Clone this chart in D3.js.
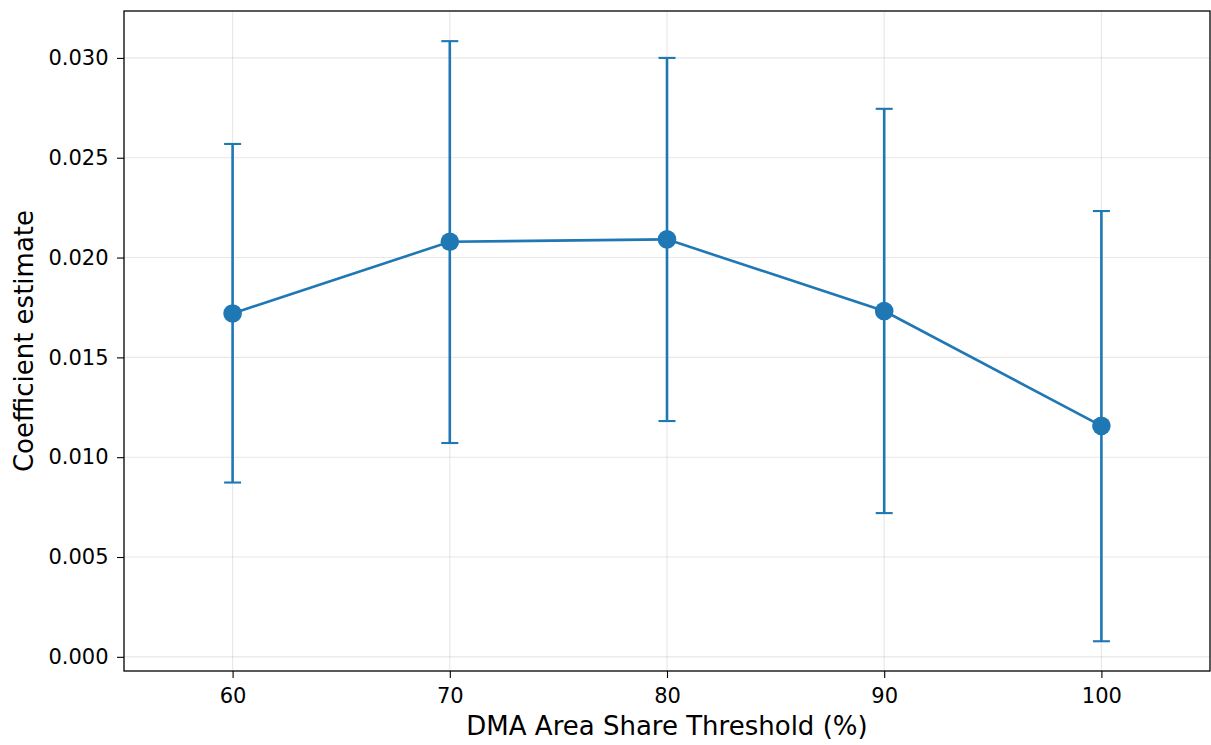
<!DOCTYPE html>
<html>
<head>
<meta charset="utf-8">
<script src="https://cdn.jsdelivr.net/npm/d3@7"></script>
<style>
  body { margin: 0; background: #fff; }
  svg { font-family: "DejaVu Sans", sans-serif; }
</style>
</head>
<body>
<svg id="chart" width="1211" height="745"></svg>
<script>
var thresholds = [60, 70, 80, 90, 100]
var estimates = [0.01720, 0.02079, 0.02091, 0.01732, 0.01157]
var lower = [0.00873, 0.01071, 0.01181, 0.00720, 0.00078]
var upper = [0.02569, 0.03084, 0.03000, 0.02745, 0.02233]
var yTicks = [0.000, 0.005, 0.010, 0.015, 0.020, 0.025, 0.030]

var color = "#1f77b4"
var svg = d3.select("#chart")
var pLeft = 124, pRight = 1210, pTop = 11, pBottom = 671

var x = d3.scaleLinear().domain([55, 105]).range([pLeft, pRight])
var y = d3.scaleLinear().domain([-0.00071, 0.03235]).range([pBottom, pTop])

// grid
svg.append("g").selectAll("line").data(thresholds).enter().append("line")
  .attr("x1", function(d){ return x(d) }).attr("x2", function(d){ return x(d) })
  .attr("y1", pTop).attr("y2", pBottom)
  .style("stroke", "#b0b0b0").style("stroke-opacity", 0.3).style("stroke-width", 1.1)
svg.append("g").selectAll("line").data(yTicks).enter().append("line")
  .attr("y1", function(d){ return y(d) }).attr("y2", function(d){ return y(d) })
  .attr("x1", pLeft).attr("x2", pRight)
  .style("stroke", "#b0b0b0").style("stroke-opacity", 0.3).style("stroke-width", 1.1)

// axes
var xAxis = svg.append("g").attr("transform", "translate(0," + pBottom + ")")
  .call(d3.axisBottom(x).tickValues(thresholds).tickSize(7).tickPadding(10).tickFormat(d3.format("d")))
var yAxis = svg.append("g").attr("transform", "translate(" + pLeft + ",0)")
  .call(d3.axisLeft(y).tickValues(yTicks).tickSize(7).tickPadding(8.5).tickFormat(d3.format(".3f")))
;[xAxis, yAxis].forEach(function(a){
  a.select(".domain").remove()
  a.selectAll("line").style("stroke", "#000").style("stroke-width", 1.1)
  a.selectAll("text").style("font-size", "21px").style("fill", "#000").style("font-family", "DejaVu Sans")
})

// frame
svg.append("rect").attr("x", pLeft).attr("y", pTop)
  .attr("width", pRight - pLeft).attr("height", pBottom - pTop)
  .style("fill", "none").style("stroke", "#000").style("stroke-width", 1.3)

var data = thresholds.map(function(t, i){
  return {t: t, est: estimates[i], lo: lower[i], hi: upper[i]}
})

// error bars
var eb = svg.append("g").selectAll("g").data(data).enter().append("g")
eb.append("line")
  .attr("x1", function(d){ return x(d.t) }).attr("x2", function(d){ return x(d.t) })
  .attr("y1", function(d){ return y(d.lo) }).attr("y2", function(d){ return y(d.hi) })
  .style("stroke", color).style("stroke-width", 2.6)
eb.selectAll(".cap").data(function(d){ return [{t: d.t, v: d.lo}, {t: d.t, v: d.hi}] })
  .enter().append("line").attr("class", "cap")
  .attr("x1", function(d){ return x(d.t) - 8.5 }).attr("x2", function(d){ return x(d.t) + 8.5 })
  .attr("y1", function(d){ return y(d.v) }).attr("y2", function(d){ return y(d.v) })
  .style("stroke", color).style("stroke-width", 2.1)

// line + markers
var line = d3.line().x(function(d){ return x(d.t) }).y(function(d){ return y(d.est) })
svg.append("path").datum(data).attr("d", line)
  .style("fill", "none").style("stroke", color).style("stroke-width", 2.6)
svg.append("g").selectAll("circle").data(data).enter().append("circle")
  .attr("cx", function(d){ return x(d.t) }).attr("cy", function(d){ return y(d.est) })
  .attr("r", 9.3).style("fill", color)

// labels
svg.append("text").attr("x", (pLeft + pRight) / 2).attr("y", 735)
  .attr("text-anchor", "middle").style("font-size", "26px").text("DMA Area Share Threshold (%)")
svg.append("text").attr("transform", "translate(33," + ((pTop + pBottom) / 2) + ") rotate(-90)")
  .attr("text-anchor", "middle").style("font-size", "26px").text("Coefficient estimate")
</script>
</body>
</html>
